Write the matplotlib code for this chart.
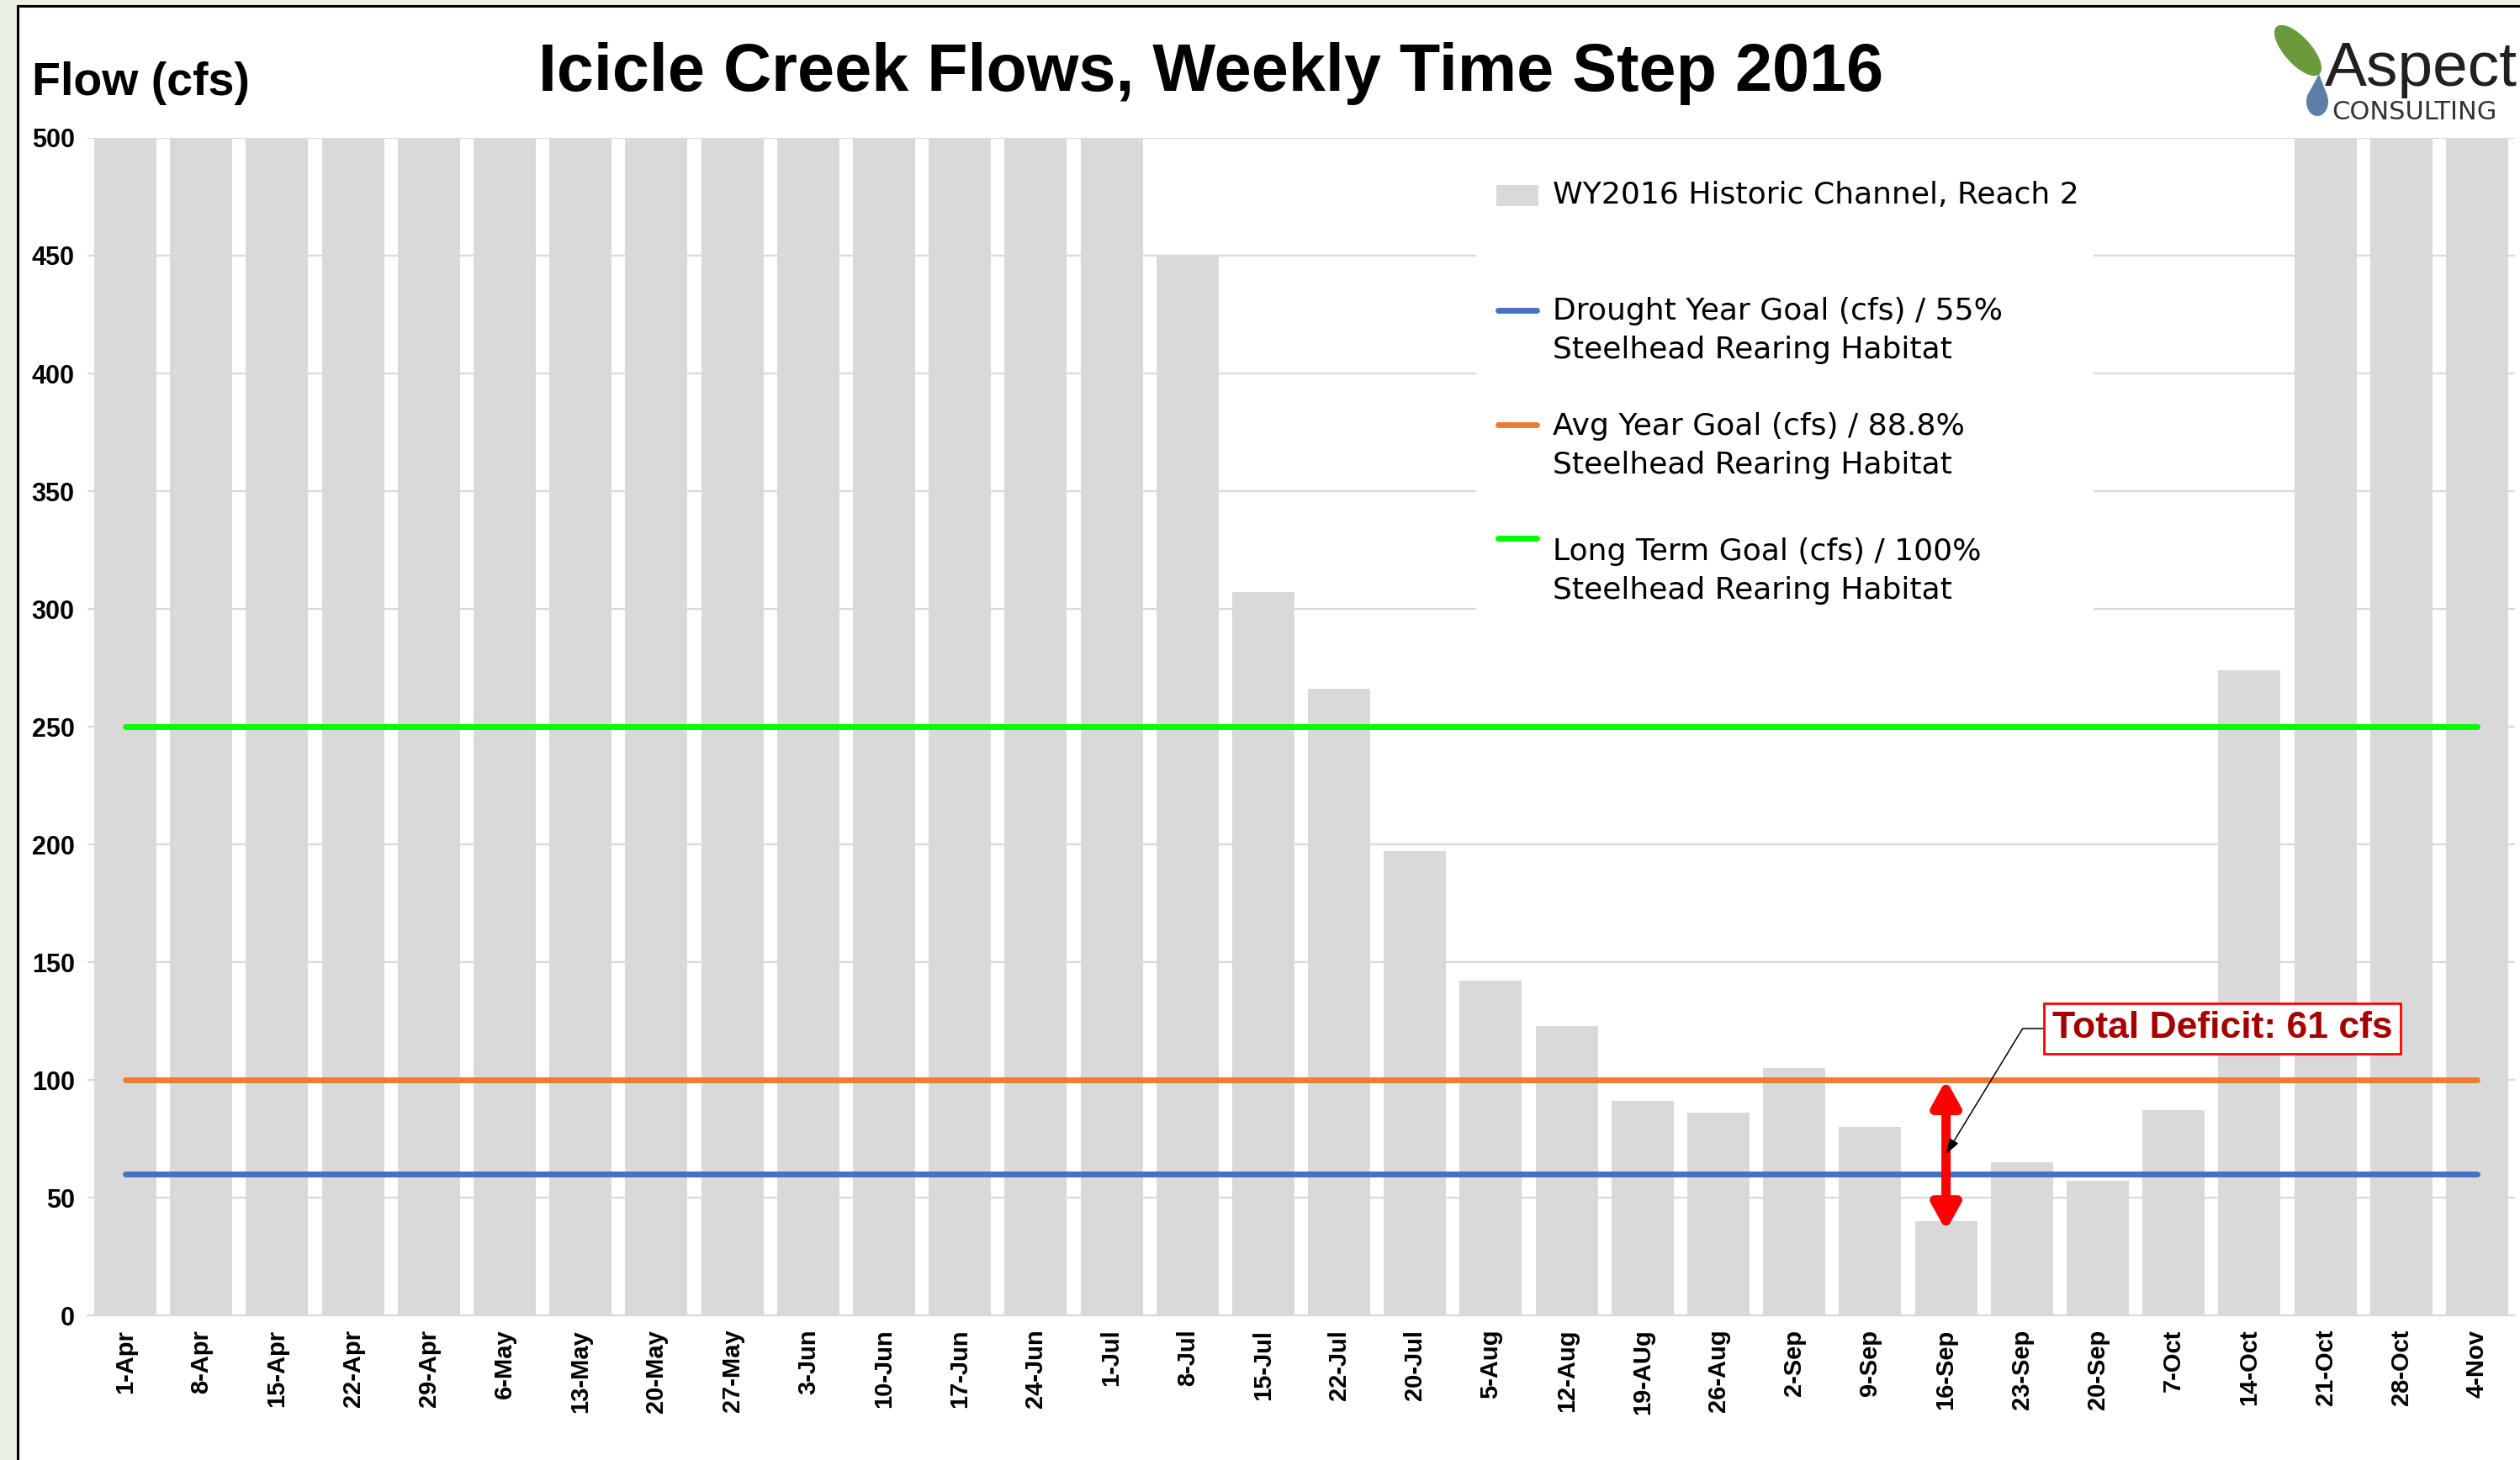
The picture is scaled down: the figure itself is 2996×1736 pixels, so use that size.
import numpy as np
import matplotlib.pyplot as plt
from matplotlib.patches import Rectangle, Ellipse, Polygon

# weekly flows (cfs), Historic Channel Reach 2 - first weeks run off the top of the axis
weeks = ['1-Apr', '8-Apr', '15-Apr', '22-Apr', '29-Apr', '6-May', '13-May', '20-May',
         '27-May', '3-Jun', '10-Jun', '17-Jun', '24-Jun', '1-Jul', '8-Jul', '15-Jul',
         '22-Jul', '20-Jul', '5-Aug', '12-Aug', '19-AUg', '26-Aug', '2-Sep', '9-Sep',
         '16-Sep', '23-Sep', '20-Sep', '7-Oct', '14-Oct', '21-Oct', '28-Oct', '4-Nov']
flow = [500, 500, 500, 500, 500, 500, 500, 500, 500, 500, 500, 500, 500, 500, 450, 307,
        266, 197, 142, 123, 91, 86, 105, 80, 40, 65, 57, 87, 274, 500, 500, 500]

drought_goal = 60
avg_goal = 100
long_term_goal = 250

legend_labels = ['WY2016 Historic Channel, Reach 2',
                 'Drought Year Goal (cfs) / 55%\nSteelhead Rearing Habitat',
                 'Avg Year Goal (cfs) / 88.8%\nSteelhead Rearing Habitat',
                 'Long Term Goal (cfs) / 100%\nSteelhead Rearing Habitat']
line_colors = ['#4472c4', '#ed7d31', '#00ff00']
bar_color = '#d9d9d9'

deficit_week = '16-Sep'
deficit_bottom = 36
deficit_label = 'Total Deficit: 61 cfs'

W, H = 2996, 1736
SANS = ['Liberation Sans', 'DejaVu Sans']

fig = plt.figure(figsize=(W / 100, H / 100), dpi=100, facecolor='white')

def fx(px):
    return px / W

def fy(py):
    return 1 - py / H

# main chart
ax = fig.add_axes([fx(104), fy(1564), fx(2990) - fx(104), fy(164) - fy(1564)])
x = np.arange(len(weeks))
ax.bar(x, flow, width=0.82, color=bar_color, zorder=2)
for val, c in zip([drought_goal, avg_goal, long_term_goal], line_colors):
    ax.plot(x, np.full(len(x), val), color=c, lw=5, solid_capstyle='round', zorder=3)

ax.set_xlim(-0.5, len(weeks) - 0.5)
ax.set_ylim(0, 500)
ax.set_yticks(range(0, 501, 50))
ax.grid(axis='y', color='#d9d9d9', lw=1.6)
ax.set_axisbelow(True)
for s in ['top', 'left', 'right']:
    ax.spines[s].set_visible(False)
ax.spines['bottom'].set_color('#d9d9d9')
ax.spines['bottom'].set_linewidth(1.6)
ax.set_xticks(x)
ax.set_xticklabels(weeks, rotation=90, fontsize=21, fontweight='bold', family=SANS)
ax.tick_params(axis='x', length=0, pad=12)
ax.tick_params(axis='y', length=0, pad=11)
for lbl in ax.get_yticklabels():
    lbl.set_fontsize(22)
    lbl.set_fontweight('bold')
    lbl.set_family(SANS)

# deficit arrow + callout
i = weeks.index(deficit_week)
ax.annotate('', xy=(i, deficit_bottom), xytext=(i, avg_goal),
            arrowprops=dict(arrowstyle='<|-|>,head_length=0.9,head_width=0.5',
                            mutation_scale=20, color='#ff0000', lw=8,
                            joinstyle='round', shrinkA=0, shrinkB=0), zorder=5)
ax.annotate(deficit_label, xy=(i, 68.5), xytext=(27.64, 121.8), textcoords='data',
            ha='center', va='center', fontsize=32, fontweight='bold', color='#a50000',
            family=SANS,
            bbox=dict(boxstyle='square,pad=0.22', fc='white', ec='#ff0000', lw=2),
            arrowprops=dict(arrowstyle='-|>,head_length=1.1,head_width=0.36',
                            mutation_scale=10, color='black', lw=1.1,
                            connectionstyle='angle,angleA=0,angleB=58.6,rad=0',
                            shrinkA=0, shrinkB=0), zorder=6)

# overlay in pixel coordinates for slide frame, titles, legend and logo
ov = fig.add_axes([0, 0, 1, 1], zorder=10)
ov.set_xlim(0, W)
ov.set_ylim(H, 0)
ov.axis('off')
ov.patch.set_visible(False)

ov.add_patch(Rectangle((0, 0), 21, H, fc='#e8f1e3', ec='none'))
ov.add_patch(Rectangle((0, 0), W, 7, fc='#e8f1e3', ec='none'))
ov.plot([21, 21, W], [H, 7, 7], color='black', lw=2.2, solid_joinstyle='miter')

ov.text(1440, 108, 'Icicle Creek Flows, Weekly Time Step 2016', ha='center', va='baseline',
        fontsize=57, fontweight='bold', family=SANS)
ov.text(38, 113, 'Flow (cfs)', ha='left', va='baseline', fontsize=40, fontweight='bold',
        family=SANS)

# legend
ov.add_patch(Rectangle((1755, 185), 734, 560, fc='white', ec='none'))
ov.add_patch(Rectangle((1779, 220), 50, 25, fc=bar_color, ec='none'))
handle_y = [369, 505, 640]
text_y = [232, 393, 530, 679]
for hy, c in zip(handle_y, line_colors):
    ov.plot([1781, 1827], [hy, hy], color=c, lw=5, solid_capstyle='round')
for ty, lab in zip(text_y, legend_labels):
    ov.text(1846, ty, lab, ha='left', va='center', fontsize=26, linespacing=1.48,
            family=['DejaVu Sans'])

# logo
ov.add_patch(Ellipse((2732, 60), 76, 32, angle=48, fc='#6b9a3c', ec='none'))
ov.add_patch(Ellipse((2755, 121), 26, 34, fc='#5b7fa6', ec='none'))
ov.add_patch(Polygon([[2743, 114], [2767, 114], [2757, 88]], closed=True, fc='#5b7fa6', ec='none'))
ov.text(2993, 102, 'Aspect', ha='right', va='baseline', fontsize=54, color='#231f20',
        family=SANS)
ov.text(2772, 142, 'CONSULTING', ha='left', va='baseline', fontsize=22, color='#333333',
        family=['DejaVu Sans'])

fig.savefig('out.png', dpi=100, facecolor=fig.get_facecolor())
